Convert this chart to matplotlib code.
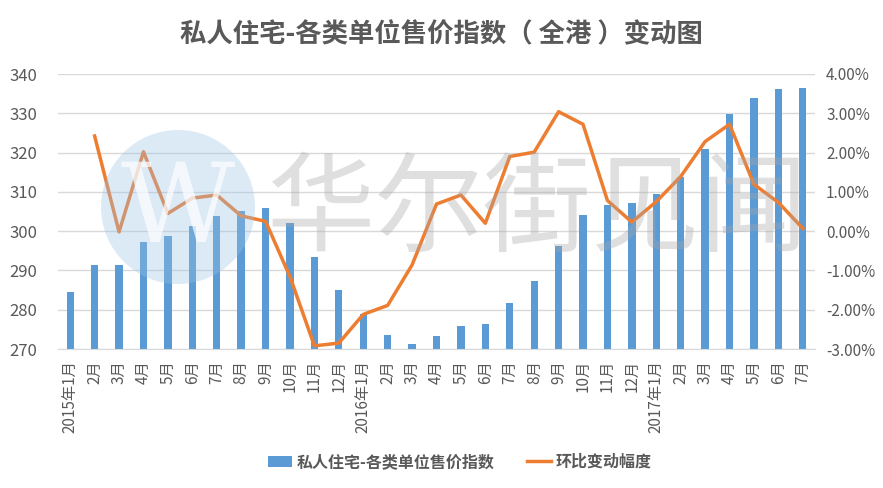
import matplotlib.pyplot as plt
from matplotlib.patches import Ellipse
from matplotlib.ticker import FuncFormatter

plt.rcParams['font.family'] = ['Noto Sans CJK SC', 'DejaVu Sans']

# month labels, 2015-01 .. 2017-07
months = ['2015年1月', '2月', '3月', '4月', '5月', '6月', '7月', '8月', '9月', '10月', '11月', '12月',
          '2016年1月', '2月', '3月', '4月', '5月', '6月', '7月', '8月', '9月', '10月', '11月', '12月',
          '2017年1月', '2月', '3月', '4月', '5月', '6月', '7月']
# price index (left axis)
index_values = [284.6, 291.4, 291.4, 297.3, 298.8, 301.3, 303.9, 305.1, 305.9, 302.1, 293.4, 285.0,
                278.9, 273.6, 271.3, 273.3, 275.9, 276.4, 281.7, 287.3, 296.2, 304.1, 306.7, 307.2,
                309.5, 313.8, 320.9, 329.8, 333.9, 336.2, 336.4]
# month-on-month change in % (right axis), first month has no value
mom_change = [None, 2.42, -0.02, 2.02, 0.45, 0.84, 0.92, 0.39, 0.25, -1.16, -2.92, -2.85,
              -2.12, -1.89, -0.86, 0.69, 0.92, 0.20, 1.90, 2.01, 3.04, 2.72, 0.78, 0.23,
              0.75, 1.39, 2.28, 2.72, 1.19, 0.73, 0.07]

blue = '#5B9BD5'
orange = '#ED7D31'
grey_text = '#595959'

fig = plt.figure(figsize=(8.83, 4.88), dpi=100)
ax = fig.add_axes([58 / 883, 1 - 349 / 488, (815 - 58) / 883, (349 - 74) / 488])

x = list(range(len(months)))
ax.bar(x, index_values, width=0.3, color=blue, label='私人住宅-各类单位售价指数', zorder=2)
ax.set_ylim(270, 340)
ax.set_yticks(range(270, 341, 10))
ax.set_xlim(-0.5, len(months) - 0.5)
ax.set_xticks(x)
ax.set_xticklabels(months, rotation=90, fontsize=11, color=grey_text)
ax.grid(axis='y', color='#D9D9D9', linewidth=1, zorder=0)
ax.set_axisbelow(True)
ax.tick_params(axis='both', length=0, labelsize=11, labelcolor=grey_text)
ax.tick_params(axis='x', pad=8)
ax.tick_params(axis='y', pad=15, labelsize=12)
for s in ['top', 'right', 'left']:
    ax.spines[s].set_visible(False)
ax.spines['bottom'].set_color('#D9D9D9')

ax2 = ax.twinx()
line_x = [i for i, v in enumerate(mom_change) if v is not None]
line_y = [v for v in mom_change if v is not None]
ax2.plot(line_x, line_y, color=orange, linewidth=2.5, label='环比变动幅度', zorder=3)
ax2.set_ylim(-3, 4)
ax2.set_yticks(range(-3, 5))
ax2.yaxis.set_major_formatter(FuncFormatter(lambda v, p: f'{v:.2f}%'))
ax2.tick_params(axis='y', length=0, labelsize=11, labelcolor=grey_text, pad=8)
for s in ['top', 'right', 'left', 'bottom']:
    ax2.spines[s].set_visible(False)

# watermark, semi-transparent over the plot
fig.patches.append(Ellipse((178 / 883, 1 - 207 / 488), 154 / 883, 154 / 488, transform=fig.transFigure,
                           facecolor='#9CC3E6', edgecolor='none', alpha=0.35, zorder=5))
fig.text(178 / 883, 1 - 212 / 488, 'W', ha='center', va='center', fontsize=80, color='white',
         family='DejaVu Serif', alpha=0.7, zorder=6)
fig.text(537 / 883, 1 - 212 / 488, '华尔街见闻', ha='center', va='center', fontsize=78,
         color='#A6A6A6', alpha=0.35, zorder=6)

fig.text(0.5, 1 - 35 / 488, '私人住宅-各类单位售价指数（ 全港 ）变动图', ha='center', va='center',
         fontsize=19, fontweight='bold', color=grey_text)

h1, l1 = ax.get_legend_handles_labels()
h2, l2 = ax2.get_legend_handles_labels()
fig.legend(h1 + h2, l1 + l2, loc='center', bbox_to_anchor=(460 / 883, 1 - 462 / 488), ncol=2,
           frameon=False, handlelength=1.5, handletextpad=0.3, columnspacing=2.0,
           prop={'weight': 'bold', 'size': 11.5})
for t in fig.legends[0].get_texts():
    t.set_color(grey_text)

fig.savefig('out.png', dpi=100)
